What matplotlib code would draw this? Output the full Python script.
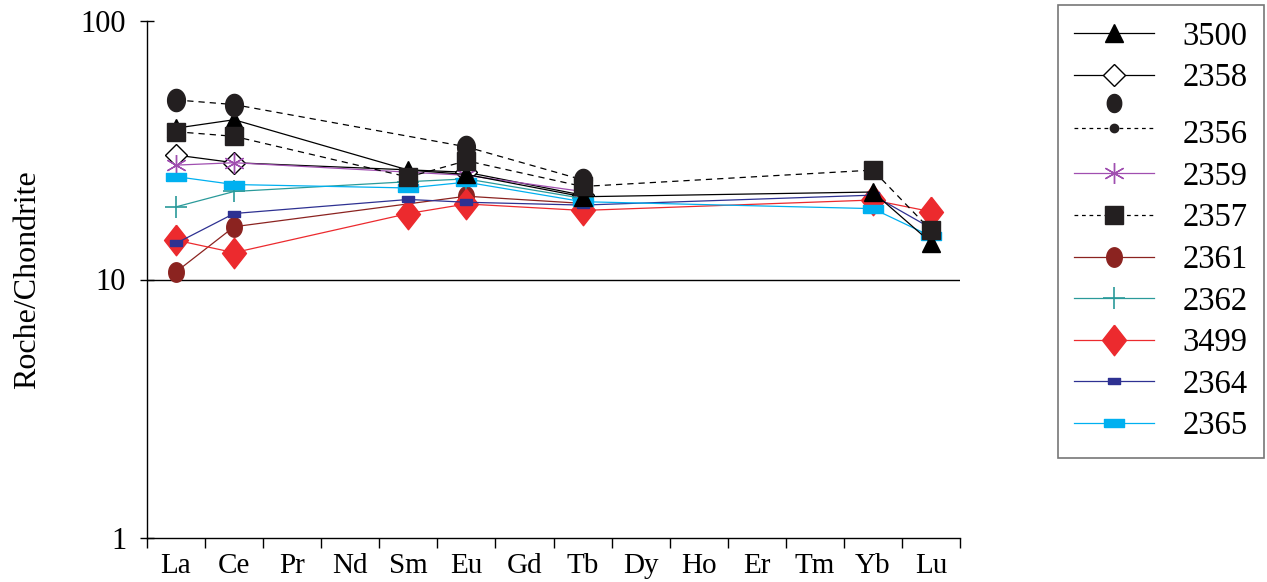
import numpy as np
import matplotlib.pyplot as plt
from matplotlib.lines import Line2D
from matplotlib.legend_handler import HandlerLine2D

plt.rcParams['font.family'] = ['Liberation Serif', 'DejaVu Serif']

# ---- data ----
elements = ['La', 'Ce', 'Pr', 'Nd', 'Sm', 'Eu', 'Gd', 'Tb', 'Dy', 'Ho', 'Er', 'Tm', 'Yb', 'Lu']
nan = np.nan
#        La    Ce    Pr   Nd   Sm    Eu    Gd   Tb    Dy   Ho   Er   Tm   Yb    Lu
s3500 = [38.5, 41.5, nan, nan, 26.5, 25.5, nan, 20.9, nan, nan, nan, nan, 21.8, 13.9]
s2358 = [30.3, 28.3, nan, nan, nan, 26.0, nan, 21.2, nan, nan, nan, nan, nan, nan]
s2356 = [49.5, 47.5, nan, nan, nan, 32.6, nan, 24.3, nan, nan, nan, nan, nan, nan]
s2359 = [27.7, 28.3, nan, nan, nan, 25.3, nan, 21.9, nan, nan, nan, nan, nan, nan]
s2357 = [37.3, 35.8, nan, nan, 24.9, 28.8, nan, 22.9, nan, nan, nan, nan, 26.5, 15.5]
s2361 = [10.7, 16.0, nan, nan, nan, 21.0, nan, 19.7, nan, nan, nan, nan, nan, nan]
s2362 = [19.1, 21.9, nan, nan, 23.9, 24.5, nan, 20.6, nan, nan, nan, nan, nan, nan]
s3499 = [14.2, 12.7, nan, nan, 18.0, 19.6, nan, 18.5, nan, nan, nan, nan, 20.3, 18.3]
s2364 = [13.8, 18.0, nan, nan, 20.4, 19.9, nan, 19.4, nan, nan, nan, nan, 21.2, 15.8]
s2365 = [25.0, 23.3, nan, nan, 22.6, 23.8, nan, 20.0, nan, nan, nan, nan, 18.8, 14.7]

series_names = ['3500', '2358', '2356', '2359', '2357', '2361', '2362', '3499', '2364', '2365']
series_vals = [s3500, s2358, s2356, s2359, s2357, s2361, s2362, s3499, s2364, s2365]

# ---- markers ----
t = np.linspace(0, 2 * np.pi, 40)
ellipse = np.column_stack([0.8 * np.cos(t), np.sin(t)])
tall_diamond = [(0, 1.15), (0.9, 0), (0, -1.15), (-0.9, 0), (0, 1.15)]
small_rect = [(-1, -0.55), (1, -0.55), (1, 0.55), (-1, 0.55), (-1, -0.55)]
wide_rect = [(-1, -0.4), (1, -0.4), (1, 0.4), (-1, 0.4), (-1, -0.4)]

DASH = (0, (5, 4))
styles = {
    '3500': dict(color='black', ls='-', marker='^', ms=13, mfc='black', mec='black'),
    '2358': dict(color='black', ls='-', marker='D', ms=11, mfc='white', mec='black', mew=1.0),
    '2356': dict(color='black', ls=DASH, marker=ellipse, ms=16, mfc='#231f20', mec='#231f20'),
    '2359': dict(color='#a04fb0', ls='-', marker=(6, 2, 0), ms=15, mew=1.0),
    '2357': dict(color='black', ls=DASH, marker='s', ms=13, mfc='#231f20', mec='#231f20'),
    '2361': dict(color='#8b2320', ls='-', marker=ellipse, ms=14, mfc='#8b2320', mec='#8b2320'),
    '2362': dict(color='#2a9a9a', ls='-', marker='+', ms=16, mew=1.2),
    '3499': dict(color='#ec2a2e', ls='-', marker=tall_diamond, ms=22, mfc='#ec2a2e', mec='#ec2a2e'),
    '2364': dict(color='#2e3192', ls='-', marker=small_rect, ms=9, mfc='#2e3192', mec='#2e3192'),
    '2365': dict(color='#00b0f0', ls='-', marker=wide_rect, ms=14, mfc='#00b0f0', mec='#00b0f0'),
}
# black series sit on top of the coloured ones
zorders = {'3500': 3, '2357': 3, '2356': 3}

fig = plt.figure(figsize=(12.67, 5.82), dpi=100)
ax = fig.add_axes([147 / 1267, 1 - 538 / 582, (960 - 147) / 1267, (538 - 21) / 582])

x = np.arange(len(elements))
for name, vals in zip(series_names, series_vals):
    v = np.array(vals, dtype=float)
    ok = ~np.isnan(v)
    ax.plot(x[ok], v[ok], lw=0.9, zorder=zorders.get(name, 2), **styles[name])

ax.set_yscale('log')
ax.set_ylim(1, 100)
ax.set_xlim(-0.5, len(elements) - 0.5)
ax.axhline(10, color='black', lw=1.0, zorder=0)

ax.set_yticks([1, 10, 100])
ax.set_yticklabels(['1', '10', '100'])
ax.yaxis.set_minor_locator(plt.NullLocator())
ax.tick_params(axis='y', direction='inout', length=10, width=1, labelsize=22, pad=10)

ax.set_xticks(np.arange(-0.5, len(elements), 1.0))
ax.set_xticklabels([])
ax.set_xticks(x, minor=True)
ax.set_xticklabels(elements, minor=True)
ax.tick_params(axis='x', which='major', direction='out', length=7, width=1)
ax.tick_params(axis='x', which='minor', length=0, labelsize=21, pad=11)

for sp in ['top', 'right']:
    ax.spines[sp].set_visible(False)
ax.spines['left'].set_linewidth(1.0)
ax.spines['bottom'].set_linewidth(1.0)

ax.set_ylabel('Roche/Chondrite', fontsize=23, labelpad=28)


# ---- legend ----
class HandlerWithEllipse(HandlerLine2D):
    def create_artists(self, legend, orig_handle, xdescent, ydescent, width, height, fontsize, trans):
        arts = super().create_artists(legend, orig_handle, xdescent, ydescent, width, height, fontsize, trans)
        ell = Line2D([width / 2 - xdescent], [height / 2 - ydescent + 25 * 72 / 100],
                     marker=ellipse, ls='none', ms=13, mfc='#231f20', mec='#231f20')
        ell.set_transform(trans)
        return arts + [ell]


handles = []
labels = []
for name in series_names:
    st = dict(styles[name])
    if name == '2356':
        st.update(marker='o', ms=6)
        labels.append('\n' + name)
    else:
        labels.append(name)
    if name in ('2356', '2357'):
        st['ls'] = (0, (3, 3))
    handles.append(Line2D([], [], lw=0.9, **st))

h2356 = handles[2]
leg = fig.legend(handles, labels, loc='upper left', bbox_to_anchor=(1058 / 1267, 1 - 5 / 582),
                 fontsize=23.5, frameon=True, fancybox=False, edgecolor='#555555',
                 handlelength=2.45, handletextpad=0.86, borderpad=0.5, labelspacing=0.34,
                 borderaxespad=0, handler_map={h2356: HandlerWithEllipse()})
leg.get_frame().set_linewidth(1.2)
leg.get_texts()[2].set_linespacing(0.35)

fig.savefig('out.png', dpi=100)
